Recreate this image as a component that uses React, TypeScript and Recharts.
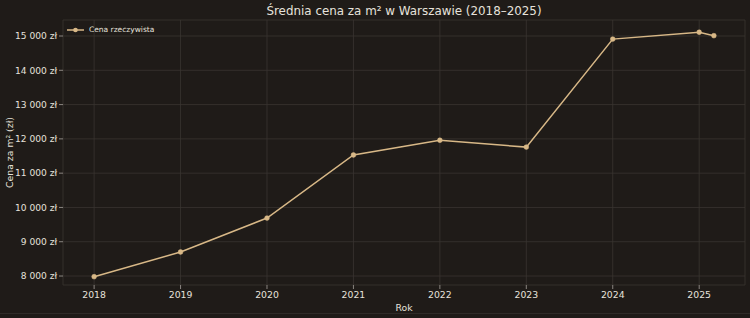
import { LineChart, Line, XAxis, YAxis, CartesianGrid } from 'recharts';

const years = [2018, 2019, 2020, 2021, 2022, 2023, 2024, 2025, 2025.17];
const prices = [7980, 8700, 9690, 11530, 11960, 11760, 14910, 15110, 15010];
const xTicks = [2018, 2019, 2020, 2021, 2022, 2023, 2024, 2025];
const yTicks = [8000, 9000, 10000, 11000, 12000, 13000, 14000, 15000];

const data = years.map((rok, i) => ({ rok, cena: prices[i] }));

const bg = '#1f1b18';
const lineColor = '#d8b887';
const textColor = '#e6e2dc';
const font = '"DejaVu Sans", sans-serif';

const fmt = (v: number) => `${String(v).replace(/\B(?=(\d{3})+(?!\d))/g, ' ')} zł`;

function LegendBox() {
  return (
    <div
      style={{
        position: 'absolute', left: 67, top: 25, display: 'flex', alignItems: 'center',
        fontFamily: font, fontSize: 7.5, color: textColor, lineHeight: '10px',
      }}
    >
      <svg width={17} height={8} style={{ marginRight: 5 }}>
        <line x1={0} y1={4} x2={17} y2={4} stroke={lineColor} strokeWidth={1.5} />
        <circle cx={8.5} cy={4} r={2.3} fill={lineColor} />
      </svg>
      Cena rzeczywista
    </div>
  );
}

export default function App() {
  return (
    <div style={{ position: 'fixed', left: 0, top: 0, width: 750, height: 318, background: bg, overflow: 'hidden' }}>
      <LineChart width={750} height={318} data={data} margin={{ top: 20, right: 5, bottom: 0, left: 0 }}>
        <CartesianGrid stroke="#3a3531" strokeWidth={0.8} />
        <XAxis
          dataKey="rok"
          type="number"
          domain={[2017.64, 2025.53]}
          ticks={xTicks}
          allowDataOverflow
          height={33}
          axisLine={false}
          tickLine={{ stroke: '#8a8580' }}
          tickSize={4}
          tick={{ fill: textColor, fontSize: 9.3, fontFamily: font }}
          label={{ value: 'Rok', position: 'insideBottom', offset: 7, fill: textColor, fontSize: 9.3, fontFamily: font }}
        />
        <YAxis
          type="number"
          domain={[7738, 15467]}
          ticks={yTicks}
          allowDataOverflow
          width={63}
          axisLine={false}
          tickLine={{ stroke: '#8a8580' }}
          tickSize={4}
          tickFormatter={fmt}
          tick={{ fill: textColor, fontSize: 9.1, fontFamily: font }}
          label={{ value: 'Cena za m² (zł)', angle: -90, position: 'insideLeft', offset: 10, fill: textColor, fontSize: 9.3, fontFamily: font, style: { textAnchor: 'middle' } }}
        />
        <Line
          type="linear"
          dataKey="cena"
          stroke={lineColor}
          strokeWidth={1.5}
          dot={{ r: 2.4, fill: lineColor, stroke: lineColor, strokeWidth: 0.5 }}
          activeDot={false}
          isAnimationActive={false}
        />
      </LineChart>
      <div
        style={{
          position: 'absolute', top: 4, left: 254, width: 300, textAlign: 'center', whiteSpace: 'nowrap',
          fontFamily: font, fontSize: 11.9, color: textColor,
        }}
      >
        Średnia cena za m² w Warszawie (2018–2025)
      </div>
      <LegendBox />
      <div style={{ position: 'absolute', left: 0, top: 313, width: 750, height: 1, background: '#2f2b28' }} />
    </div>
  );
}
